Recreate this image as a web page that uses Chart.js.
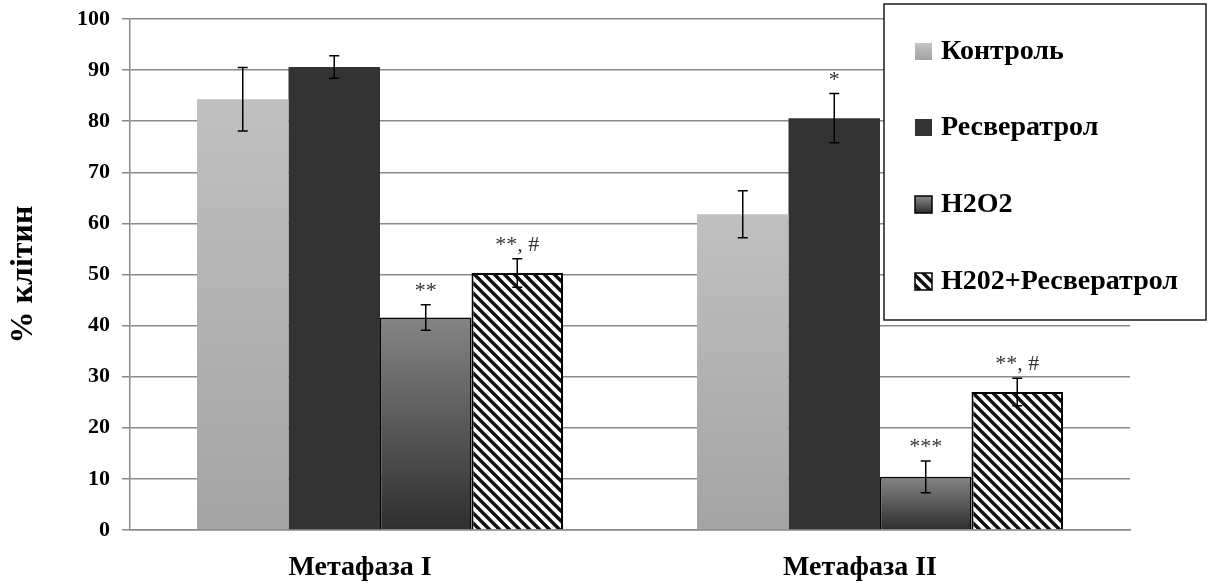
<!DOCTYPE html>
<html>
<head>
<meta charset="utf-8">
<script src="https://cdn.jsdelivr.net/npm/chart.js@4/dist/chart.umd.min.js"></script>
<style>
  body { margin: 0; background: #fff; }
  #wrap { width: 1210px; height: 583px; }
</style>
</head>
<body>
<div id="wrap"><canvas id="barChart" width="1210" height="583"></canvas></div>
<script>
// values
var categories = ['Метафаза I', 'Метафаза II'];
var seriesNames = ['Контроль', 'Ресвератрол', 'H2O2', 'H202+Ресвератрол'];

var control = [84.3, 61.8];
var controlErr = [6.2, 4.6];
var resveratrol = [90.6, 80.6];
var resveratrolErr = [2.2, 4.8];
var h2o2 = [41.6, 10.4];
var h2o2Err = [2.5, 3.1];
var h2o2Res = [50.3, 27.0];
var h2o2ResErr = [2.8, 2.7];

// significance marks above the error bars
var controlMarks = ['', ''];
var resveratrolMarks = ['', '*'];
var h2o2Marks = ['**', '***'];
var h2o2ResMarks = ['**, #', '**, #'];

var yTicks = [0, 10, 20, 30, 40, 50, 60, 70, 80, 90, 100];

var serif = "'Liberation Serif', 'Times New Roman', serif";

// hatch pattern for the last series
function makeHatch() {
    var c = document.createElement('canvas');
    c.width = 10; c.height = 10;
    var g = c.getContext('2d');
    g.fillStyle = '#fff';
    g.fillRect(0, 0, 10, 10);
    g.strokeStyle = '#111';
    g.lineWidth = 3.4;
    g.beginPath();
    g.moveTo(-5, -5); g.lineTo(15, 15);
    g.moveTo(-5, 5); g.lineTo(5, 15);
    g.moveTo(5, -5); g.lineTo(15, 5);
    g.stroke();
    return c;
}
var ctx = document.getElementById('barChart').getContext('2d');
var hatch = ctx.createPattern(makeHatch(), 'repeat');

function vgrad(c1, c2) {
    return function (context) {
        var chart = context.chart;
        if (!chart.chartArea || context.type !== 'data') return c1;
        var y = chart.scales.y;
        var top = y.getPixelForValue(context.raw);
        var bot = y.getPixelForValue(0);
        if (!isFinite(top) || bot - top < 1) return c1;
        var g = chart.ctx.createLinearGradient(0, top, 0, bot);
        g.addColorStop(0, c1);
        g.addColorStop(1, c2);
        return g;
    };
}

var errors = [controlErr, resveratrolErr, h2o2Err, h2o2ResErr];
var marks = [controlMarks, resveratrolMarks, h2o2Marks, h2o2ResMarks];

var errorBars = {
    id: 'errorBars',
    afterDatasetsDraw: function (chart) {
        var c = chart.ctx, y = chart.scales.y;
        c.save();
        chart.data.datasets.forEach(function (ds, i) {
            var meta = chart.getDatasetMeta(i);
            meta.data.forEach(function (bar, j) {
                var v = ds.data[j], e = errors[i][j];
                var y1 = y.getPixelForValue(v + e), y2 = y.getPixelForValue(v - e);
                c.strokeStyle = '#000';
                c.lineWidth = 1.5;
                c.beginPath();
                c.moveTo(bar.x, y1); c.lineTo(bar.x, y2);
                c.moveTo(bar.x - 5, y1); c.lineTo(bar.x + 5, y1);
                c.moveTo(bar.x - 5, y2); c.lineTo(bar.x + 5, y2);
                c.stroke();
                if (marks[i][j]) {
                    c.fillStyle = '#333';
                    c.font = '22px ' + serif;
                    c.textAlign = 'center';
                    c.textBaseline = 'alphabetic';
                    c.fillText(marks[i][j], bar.x, y1 - 8);
                }
            });
        });
        c.restore();
    }
};

var boxLegend = {
    id: 'boxLegend',
    afterDraw: function (chart) {
        var c = chart.ctx;
        var fills = [null, '#333333', null, hatch];
        var rows = [51, 127, 204, 281];
        c.save();
        c.fillStyle = '#fff';
        c.fillRect(884, 4, 322, 316);
        c.strokeStyle = '#1a1a1a';
        c.lineWidth = 1.5;
        c.strokeRect(884, 4, 322, 316);
        seriesNames.forEach(function (name, i) {
            var cy = rows[i];
            var x = 915, top = cy - 8, s = 17;
            var f = fills[i];
            if (i === 0 || i === 2) {
                f = c.createLinearGradient(0, top, 0, top + s);
                f.addColorStop(0, i === 0 ? '#c4c4c4' : '#8a8a8a');
                f.addColorStop(1, i === 0 ? '#a3a3a3' : '#2e2e2e');
            }
            c.fillStyle = f;
            c.fillRect(x, top, s, s);
            if (i >= 2) {
                c.strokeStyle = '#000';
                c.lineWidth = 1.5;
                c.strokeRect(x, top, s, s);
            }
            c.fillStyle = '#000';
            c.font = 'bold 28px ' + serif;
            c.textAlign = 'left';
            c.textBaseline = 'middle';
            c.fillText(name, 941, cy + 1);
        });
        c.restore();
    }
};

var barChart = new Chart(ctx, {
    type: 'bar',
    data: {
        labels: categories,
        datasets: [
            { label: seriesNames[0], data: control, backgroundColor: vgrad('#c0c0c0', '#a4a4a4'), borderWidth: 0 },
            { label: seriesNames[1], data: resveratrol, backgroundColor: '#333333', borderWidth: 0 },
            { label: seriesNames[2], data: h2o2, backgroundColor: vgrad('#858585', '#2e2e2e'), borderColor: '#000', borderWidth: 1.5 },
            { label: seriesNames[3], data: h2o2Res, backgroundColor: hatch, borderColor: '#000', borderWidth: 2 }
        ]
    },
    options: {
        responsive: false,
        animation: false,
        events: [],
        layout: { padding: { top: 19, right: 80, left: 0, bottom: 0 } },
        datasets: { bar: { categoryPercentage: 0.732, barPercentage: 1 } },
        plugins: { legend: { display: false }, tooltip: { enabled: false } },
        scales: {
            x: {
                grid: { display: false, drawTicks: false },
                border: { display: true, color: '#8a8a8a', width: 1.5 },
                ticks: { color: '#000', font: { family: serif, size: 28, weight: 'bold' }, padding: 21, labelOffset: -20 },
                afterFit: function (s) { s.height = 53; }
            },
            y: {
                min: 0, max: 100,
                afterBuildTicks: function (s) { s.ticks = yTicks.map(function (v) { return { value: v }; }); },
                grid: { color: '#8a8a8a', lineWidth: 1.5, tickLength: 8 },
                border: { display: true, color: '#8a8a8a', width: 1.5 },
                ticks: { color: '#000', font: { family: serif, size: 22, weight: 'bold' }, padding: 12 },
                title: { display: true, text: '% клітин', color: '#000', font: { family: serif, size: 32, weight: 'bold' }, padding: { top: 5, bottom: 0 } },
                afterFit: function (s) { s.width = 130; s.paddingTop = 0; s.paddingBottom = 0; }
            }
        }
    },
    plugins: [errorBars, boxLegend]
});
</script>
</body>
</html>
